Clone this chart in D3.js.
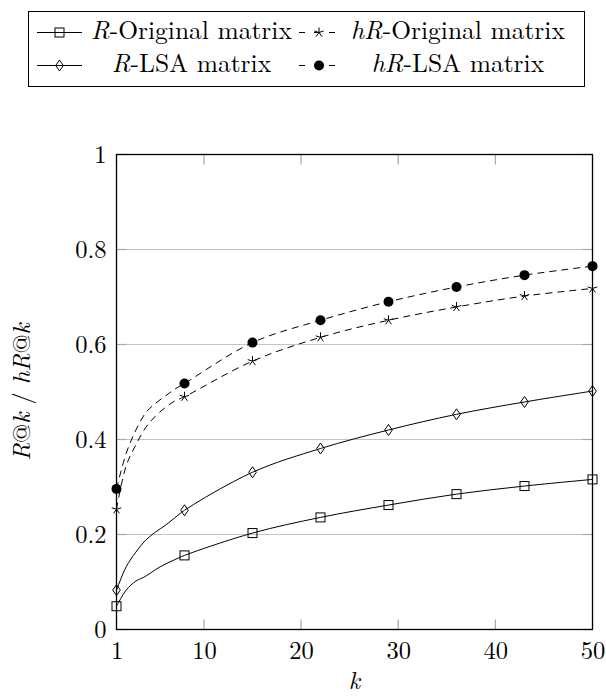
<!DOCTYPE html>
<html>
<head>
<meta charset="utf-8">
<script src="https://cdn.jsdelivr.net/npm/d3@7"></script>
<style>
  html, body { margin: 0; padding: 0; background: #fff; }
</style>
</head>
<body>
<svg id="chart" width="606" height="696"></svg>
<script>
// ---- data ----
const kValues    = [1, 2, 3, 4, 5, 6, 7, 8, 15, 22, 29, 36, 43, 50];
const rOriginal  = [0.049, 0.083, 0.102, 0.112, 0.126, 0.1375, 0.147, 0.156, 0.203, 0.236, 0.262, 0.285, 0.302, 0.316];
const rLSA       = [0.083, 0.132, 0.163, 0.188, 0.205, 0.219, 0.235, 0.251, 0.331, 0.381, 0.420, 0.453, 0.479, 0.502];
const hrOriginal = [0.253, 0.345, 0.389, 0.425, 0.449, 0.467, 0.481, 0.490, 0.565, 0.615, 0.651, 0.679, 0.702, 0.718];
const hrLSA      = [0.296, 0.371, 0.420, 0.456, 0.476, 0.491, 0.506, 0.518, 0.604, 0.651, 0.690, 0.721, 0.746, 0.765];
const markerK    = [1, 8, 15, 22, 29, 36, 43, 50];
const xTicks     = [1, 10, 20, 30, 40, 50];
const yTicks     = [0, 0.2, 0.4, 0.6, 0.8, 1];
const gridTicks  = [0.2, 0.4, 0.6, 0.8];

const series = [
  { label: ["R", "-Original matrix"], values: rOriginal, mark: "square", dashed: false },
  { label: ["hR", "-Original matrix"], values: hrOriginal, mark: "star", dashed: true },
  { label: ["R", "-LSA matrix"], values: rLSA, mark: "diamond", dashed: false },
  { label: ["hR", "-LSA matrix"], values: hrLSA, mark: "circle", dashed: true }
];

// ---- layout ----
const FONT = "'Latin Modern Roman', 'Liberation Serif', serif";
const fs = 24.5, legendFs = 25.5;
const svg = d3.select("#chart");
const pLeft = 116.5, pRight = 592.5, pTop = 154.5, pBottom = 629.5;
const x = d3.scaleLinear().domain([1, 50]).range([pLeft, pRight]);
const y = d3.scaleLinear().domain([0, 1]).range([pBottom, pTop]);

// grid lines
svg.append("g").selectAll("line").data(gridTicks).join("line")
  .attr("x1", pLeft).attr("x2", pRight)
  .attr("y1", d => y(d)).attr("y2", d => y(d))
  .attr("stroke", "#c4c4c4").attr("stroke-width", 1);

// inward tick marks
const tickLen = 10;
const tg = svg.append("g").attr("stroke", "#a8a8a8").attr("stroke-width", 1.2);
xTicks.forEach(t => {
  tg.append("line").attr("x1", x(t)).attr("x2", x(t)).attr("y1", pBottom).attr("y2", pBottom - tickLen);
  tg.append("line").attr("x1", x(t)).attr("x2", x(t)).attr("y1", pTop).attr("y2", pTop + tickLen);
});
yTicks.forEach(t => {
  tg.append("line").attr("x1", pLeft).attr("x2", pLeft + tickLen).attr("y1", y(t)).attr("y2", y(t));
  tg.append("line").attr("x1", pRight).attr("x2", pRight - tickLen).attr("y1", y(t)).attr("y2", y(t));
});

// tick labels via d3 axes
const xAxis = svg.append("g").attr("transform", `translate(0,${pBottom})`)
  .call(d3.axisBottom(x).tickValues(xTicks).tickSize(0).tickPadding(0).tickFormat(d3.format("d")));
const yAxis = svg.append("g").attr("transform", `translate(${pLeft},0)`)
  .call(d3.axisLeft(y).tickValues(yTicks).tickSize(0).tickPadding(10).tickFormat(d => d === 0 ? "0" : d === 1 ? "1" : d3.format(".1f")(d)));
[xAxis, yAxis].forEach(a => {
  a.select(".domain").remove();
  a.attr("font-family", null).attr("font-size", null);
  a.selectAll("text").style("font-family", FONT).style("font-size", fs + "px").attr("fill", "#000");
});
xAxis.selectAll("text").attr("y", 29.5).attr("dy", null);
yAxis.selectAll("text").attr("dy", null).attr("y", 7.8);

// frame
svg.append("rect").attr("x", pLeft).attr("y", pTop).attr("width", pRight - pLeft).attr("height", pBottom - pTop)
  .attr("fill", "none").attr("stroke", "#000").attr("stroke-width", 1.3);

// axis titles
svg.append("text").attr("x", (pLeft + pRight) / 2).attr("y", 689).attr("text-anchor", "middle")
  .style("font-family", FONT).style("font-size", fs + "px").style("font-style", "italic").text("k");

const yl = svg.append("text").attr("transform", `translate(30,${(pTop + pBottom) / 2}) rotate(-90)`)
  .attr("text-anchor", "middle").style("font-family", FONT).style("font-size", fs + "px");
yl.append("tspan").style("font-style", "italic").text("R");
yl.append("tspan").text("@");
yl.append("tspan").style("font-style", "italic").text("k");
yl.append("tspan").text(" / ");
yl.append("tspan").style("font-style", "italic").text("hR");
yl.append("tspan").text("@");
yl.append("tspan").style("font-style", "italic").text("k");

// marker drawing
function drawMark(g, type, cx, cy) {
  if (type === "square") {
    g.append("rect").attr("x", cx - 4.5).attr("y", cy - 4.5).attr("width", 9).attr("height", 9)
      .attr("fill", "none").attr("stroke", "#000").attr("stroke-width", 1);
  } else if (type === "diamond") {
    g.append("path").attr("d", `M${cx},${cy - 5.5}L${cx + 3.8},${cy}L${cx},${cy + 5.5}L${cx - 3.8},${cy}Z`)
      .attr("fill", "none").attr("stroke", "#000").attr("stroke-width", 1);
  } else if (type === "circle") {
    g.append("circle").attr("cx", cx).attr("cy", cy).attr("r", 5).attr("fill", "#000");
  } else if (type === "star") {
    const r = 5;
    for (let i = 0; i < 5; i++) {
      const a = -Math.PI / 2 + i * 2 * Math.PI / 5;
      g.append("line").attr("x1", cx).attr("y1", cy)
        .attr("x2", cx + r * Math.cos(a)).attr("y2", cy + r * Math.sin(a))
        .attr("stroke", "#000").attr("stroke-width", 1);
    }
  }
}

// lines
const line = d3.line().x(d => x(d.k)).y(d => y(d.v)).curve(d3.curveCatmullRom.alpha(0.5));
series.forEach(s => {
  const pts = kValues.map((k, i) => ({ k, v: s.values[i] }));
  svg.append("path").datum(pts).attr("d", line)
    .attr("fill", "none").attr("stroke", "#000").attr("stroke-width", 1)
    .attr("stroke-dasharray", s.dashed ? "7,5" : null);
  const mg = svg.append("g");
  pts.filter(p => markerK.includes(p.k)).forEach(p => drawMark(mg, s.mark, x(p.k), y(p.v)));
});

// legend
const lg = svg.append("g");
lg.append("rect").attr("x", 28.5).attr("y", 11.5).attr("width", 556).attr("height", 75)
  .attr("fill", "#fff").attr("stroke", "#000").attr("stroke-width", 1);
const rowsY = [32.5, 65.5];
const cols = [
  { sx1: 37, sx2: 82, tx1: 89, tx2: 294 },
  { sx1: 299, sx2: 339, tx1: 348, tx2: 568 }
];
series.forEach((s, i) => {
  const c = cols[i % 2], ry = rowsY[Math.floor(i / 2)];
  lg.append("line").attr("x1", c.sx1).attr("x2", c.sx2).attr("y1", ry).attr("y2", ry)
    .attr("stroke", "#000").attr("stroke-width", 1)
    .attr("stroke-dasharray", s.dashed ? "6,9" : null);
  drawMark(lg, s.mark, (c.sx1 + c.sx2) / 2, ry);
  const t = lg.append("text").attr("x", (c.tx1 + c.tx2) / 2).attr("y", ry + 6.5)
    .attr("text-anchor", "middle").style("font-family", FONT).style("font-size", legendFs + "px");
  t.append("tspan").style("font-style", "italic").text(s.label[0]);
  t.append("tspan").text(s.label[1]);
});
</script>
</body>
</html>
